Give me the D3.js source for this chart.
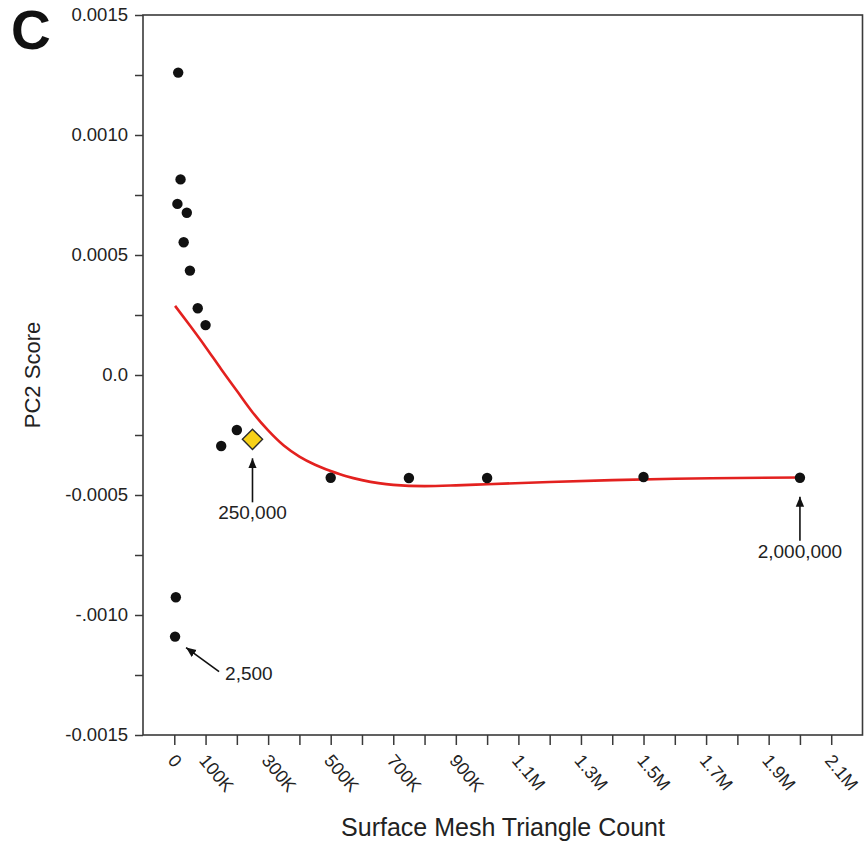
<!DOCTYPE html>
<html>
<head>
<meta charset="utf-8">
<script src="https://cdn.jsdelivr.net/npm/d3@7/dist/d3.min.js"></script>
<style>
  html, body { margin: 0; padding: 0; background: #fff; }
  svg { display: block; font-family: "Liberation Sans", Arial, Helvetica, sans-serif; }
</style>
</head>
<body>
<svg id="chart" width="868" height="845"></svg>
<script>
// Mesh resolution (triangle count) and the PC2 score of each reconstruction
const meshCounts = [2500, 5000, 10000, 12500, 20000, 30000, 40000, 50000, 75000, 100000,
                    150000, 200000, 500000, 750000, 1000000, 1500000, 2000000];
const pc2Scores  = [-0.00109, -0.000926, 0.000713, 0.00126, 0.000815, 0.000553, 0.000676, 0.000435, 0.000278, 0.000208,
                    -0.000296, -0.000229, -0.000428, -0.000429, -0.000429, -0.000425, -0.000428];

// Chosen resolution, drawn as a diamond
const chosenCount = 250000;
const chosenScore = -0.000268;

// Smoothed trend through the scores
const fitCounts = [2500, 50000, 100000, 150000, 200000, 250000, 300000, 350000, 400000, 450000, 500000,
                   550000, 600000, 700000, 800000, 900000, 1000000, 1200000, 1400000, 1600000, 1800000, 2000000];
const fitScores = [0.000288, 0.000206, 0.000117, 0.000024, -0.000066, -0.000155, -0.000231, -0.000294, -0.000340, -0.000374, -0.000400,
                   -0.000422, -0.000438, -0.000458, -0.000463, -0.000460, -0.000455, -0.000446, -0.000438, -0.000432, -0.000429, -0.000427];

// Axis ticks
const xTickValues = d3.range(0, 2100001, 100000);
const xTickLabels = ["0", "100K", "300K", "500K", "700K", "900K", "1.1M", "1.3M", "1.5M", "1.7M", "1.9M", "2.1M"];
const xLabelledValues = [0, 100000, 300000, 500000, 700000, 900000, 1100000, 1300000, 1500000, 1700000, 1900000, 2100000];
const yTickValues = d3.range(-6, 7).map(i => i * 0.00025);
const yTickLabels = ["-0.0015", "-.0010", "-0.0005", "0.0", "0.0005", "0.0010", "0.0015"];
const yLabelledValues = [-0.0015, -0.0010, -0.0005, 0, 0.0005, 0.0010, 0.0015];

// Annotated points
const noteCounts = [2500, 250000, 2000000];
const noteScores = [-0.00109, -0.000268, -0.000428];
const noteTexts  = ["2,500", "250,000", "2,000,000"];
const noteKinds  = ["diagonal", "below", "below"];

const svg = d3.select("#chart");
const margin = { left: 143, top: 15, right: 868 - 862.5, bottom: 845 - 735 };
const W = 868, H = 845;

const x = d3.scaleLinear().domain([-100000, 2200000]).range([margin.left, W - margin.right]);
const y = d3.scaleLinear().domain([-0.0015, 0.0015]).range([H - margin.bottom, margin.top]);

const axisColor = "#3a3a3a";

// Panel letter
svg.append("text").attr("x", 11).attr("y", 49)
  .attr("font-size", 55).attr("font-weight", "bold").attr("fill", "#111").text("C");

// Frame
svg.append("rect")
  .attr("x", x.range()[0]).attr("y", y.range()[1])
  .attr("width", x.range()[1] - x.range()[0]).attr("height", y.range()[0] - y.range()[1])
  .attr("fill", "none").attr("stroke", axisColor).attr("stroke-width", 1.6);

// Y axis
const yLabelMap = new Map(yLabelledValues.map((v, i) => [v.toFixed(5), yTickLabels[i]]));
const yAxis = d3.axisLeft(y).tickValues(yTickValues).tickSize(8).tickPadding(7)
  .tickFormat(d => yLabelMap.get(d.toFixed(5)) || "");
const gy = svg.append("g").attr("transform", `translate(${x.range()[0]},0)`).call(yAxis);
gy.select(".domain").remove();
gy.selectAll(".tick line").attr("stroke", axisColor).attr("stroke-width", 1.5);
gy.selectAll(".tick text").attr("font-size", 18.5).attr("fill", "#222").attr("font-family", null);

// X axis
const xLabelMap = new Map(xLabelledValues.map((v, i) => [v, xTickLabels[i]]));
const xAxis = d3.axisBottom(x).tickValues(xTickValues).tickSize(10).tickFormat(d => xLabelMap.get(d) || "");
const gx = svg.append("g").attr("transform", `translate(0,${y.range()[0]})`).call(xAxis);
gx.select(".domain").remove();
gx.selectAll(".tick line").attr("stroke", axisColor).attr("stroke-width", 1.5);
gx.selectAll(".tick text")
  .attr("font-size", 18).attr("fill", "#222").attr("font-family", null)
  .attr("text-anchor", "start")
  .attr("x", 0).attr("y", 0).attr("dy", "0.35em")
  .attr("transform", "translate(-3,22) rotate(50)");

// Axis titles
svg.append("text")
  .attr("transform", `translate(40,${(y.range()[0] + y.range()[1]) / 2}) rotate(-90)`)
  .attr("text-anchor", "middle").attr("font-size", 22).attr("fill", "#222").text("PC2 Score");
svg.append("text")
  .attr("x", 503).attr("y", 836)
  .attr("text-anchor", "middle").attr("font-size", 25).attr("fill", "#222").text("Surface Mesh Triangle Count");

// Trend line
const line = d3.line().x(d => x(d[0])).y(d => y(d[1])).curve(d3.curveMonotoneX);
svg.append("path")
  .datum(fitCounts.map((c, i) => [c, fitScores[i]]))
  .attr("d", line).attr("fill", "none").attr("stroke", "#e3211f").attr("stroke-width", 2.6);

// Points
svg.append("g").selectAll("circle")
  .data(meshCounts.map((c, i) => [c, pc2Scores[i]]))
  .join("circle")
  .attr("cx", d => x(d[0])).attr("cy", d => y(d[1])).attr("r", 5.2).attr("fill", "#111");

// Chosen resolution
svg.append("path")
  .attr("d", d3.symbol(d3.symbolDiamond2, 260)())
  .attr("transform", `translate(${x(chosenCount)},${y(chosenScore)})`)
  .attr("fill", "#f7d117").attr("stroke", "#2a2a2a").attr("stroke-width", 1.4);

// Arrow heads
svg.append("defs").append("marker")
  .attr("id", "head").attr("viewBox", "0 0 10 10").attr("refX", 10).attr("refY", 5)
  .attr("markerWidth", 10).attr("markerHeight", 10).attr("markerUnits", "userSpaceOnUse")
  .attr("orient", "auto")
  .append("path").attr("d", "M0,0.8 L10,5 L0,9.2 Z").attr("fill", "#111");

// Annotations
const notes = svg.append("g");
noteCounts.forEach((c, i) => {
  const px = x(c), py = y(noteScores[i]);
  if (noteKinds[i] === "below") {
    notes.append("line")
      .attr("x1", px).attr("y1", py + 63).attr("x2", px).attr("y2", py + 19)
      .attr("stroke", "#111").attr("stroke-width", 1.6).attr("marker-end", "url(#head)");
    notes.append("text").attr("x", px).attr("y", py + 80)
      .attr("text-anchor", "middle").attr("font-size", 19).attr("fill", "#222").text(noteTexts[i]);
  } else {
    notes.append("line")
      .attr("x1", px + 44).attr("y1", py + 35).attr("x2", px + 11).attr("y2", py + 11)
      .attr("stroke", "#111").attr("stroke-width", 1.6).attr("marker-end", "url(#head)");
    notes.append("text").attr("x", px + 50).attr("y", py + 43)
      .attr("text-anchor", "start").attr("font-size", 19).attr("fill", "#222").text(noteTexts[i]);
  }
});
</script>
</body>
</html>
